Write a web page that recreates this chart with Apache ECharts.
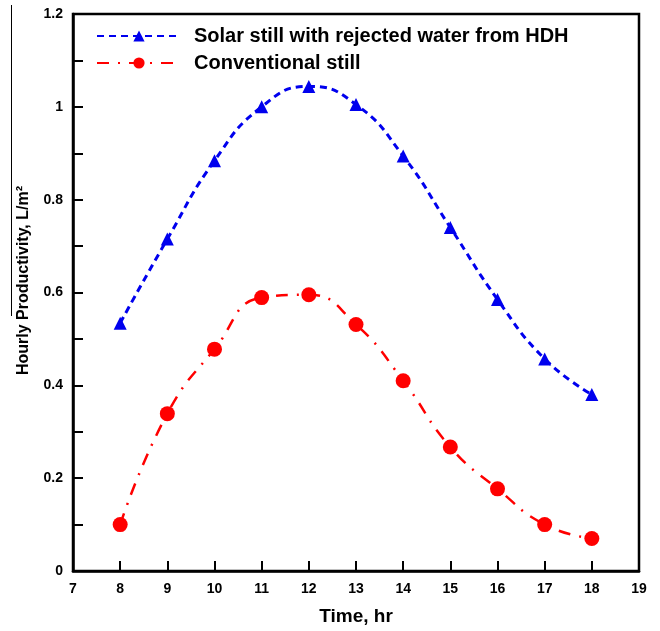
<!DOCTYPE html>
<html>
<head>
<meta charset="utf-8">
<script src="https://cdn.jsdelivr.net/npm/echarts@6/dist/echarts.min.js"></script>
<style>
  html, body { margin: 0; padding: 0; background: #fff; }
  #chart { width: 660px; height: 631px; }
</style>
</head>
<body>
<div id="chart"></div>
<script>
// Hourly productivity of two solar stills over the day
const hours = [8, 9, 10, 11, 12, 13, 14, 15, 16, 17, 18];
const stillWithHDH = [0.534, 0.715, 0.884, 1.0, 1.044, 1.005, 0.894, 0.74, 0.585, 0.457, 0.38];
const conventionalStill = [0.1, 0.339, 0.478, 0.589, 0.595, 0.531, 0.41, 0.267, 0.177, 0.1, 0.07];
const seriesNames = ['Solar still with rejected water from HDH', 'Conventional still'];
const xTitle = 'Time, hr';
const yTitle = 'Hourly Productivity, L/m²';

const pairs = (ys) => hours.map((h, i) => [h, ys[i]]);
const FONT = 'Liberation Sans, Arial, sans-serif';

const chart = echarts.init(document.getElementById('chart'), null, { renderer: 'canvas' });
chart.setOption({
  animation: false,
  backgroundColor: '#fff',
  grid: {
    left: 73, right: 21, top: 14, bottom: 56,
    show: true, borderColor: '#000', borderWidth: 2.5, backgroundColor: 'transparent'
  },
  legend: {
    left: 96, top: 26, orient: 'vertical', padding: 0,
    itemWidth: 84, itemHeight: 14, itemGap: 7,
    textStyle: { fontFamily: FONT, fontWeight: 'bold', fontSize: 20, lineHeight: 20, color: '#000', padding: [0, 0, 0, 8] },
    data: seriesNames
  },
  xAxis: {
    type: 'value', min: 7, max: 19, interval: 1,
    name: xTitle, nameLocation: 'middle', nameGap: 36,
    nameTextStyle: { fontFamily: FONT, fontWeight: 'bold', fontSize: 19, color: '#000' },
    axisLine: { lineStyle: { color: '#000', width: 2.5 } },
    axisTick: { inside: true, length: 10, lineStyle: { color: '#000', width: 2 } },
    axisLabel: { fontFamily: FONT, fontWeight: 'bold', fontSize: 14, color: '#000', margin: 11 },
    splitLine: { show: false }
  },
  yAxis: {
    type: 'value', min: 0, max: 1.2, interval: 0.2,
    name: yTitle, nameLocation: 'middle', nameGap: 41,
    nameTextStyle: { fontFamily: FONT, fontWeight: 'bold', fontSize: 16, color: '#000', padding: [0, 0, 0, 24] },
    axisLine: { lineStyle: { color: '#000', width: 2.5 } },
    axisTick: { inside: true, length: 10, lineStyle: { color: '#000', width: 2 } },
    minorTick: { show: true, splitNumber: 2, length: 10, lineStyle: { color: '#000', width: 2 } },
    axisLabel: { fontFamily: FONT, fontWeight: 'bold', fontSize: 14, color: '#000', margin: 10 },
    splitLine: { show: false }
  },
  series: [
    {
      name: seriesNames[0], type: 'line', smooth: 0.5,
      data: pairs(stillWithHDH),
      symbol: 'triangle', symbolSize: 13,
      itemStyle: { color: '#0000ee' },
      lineStyle: { color: '#0000ee', width: 3, type: [7, 5] },
      z: 3
    },
    {
      name: seriesNames[1], type: 'line', smooth: 0.5,
      data: pairs(conventionalStill),
      symbol: 'circle', symbolSize: 15,
      itemStyle: { color: '#ff0000' },
      lineStyle: { color: '#ff0000', width: 2.5, type: [12, 9, 2, 9] },
      z: 2
    }
  ],
  graphic: [
    {
      type: 'line', silent: true,
      shape: { x1: 11.5, y1: 5, x2: 11.5, y2: 316 },
      style: { stroke: '#000', lineWidth: 1 }
    }
  ]
});
</script>
</body>
</html>
